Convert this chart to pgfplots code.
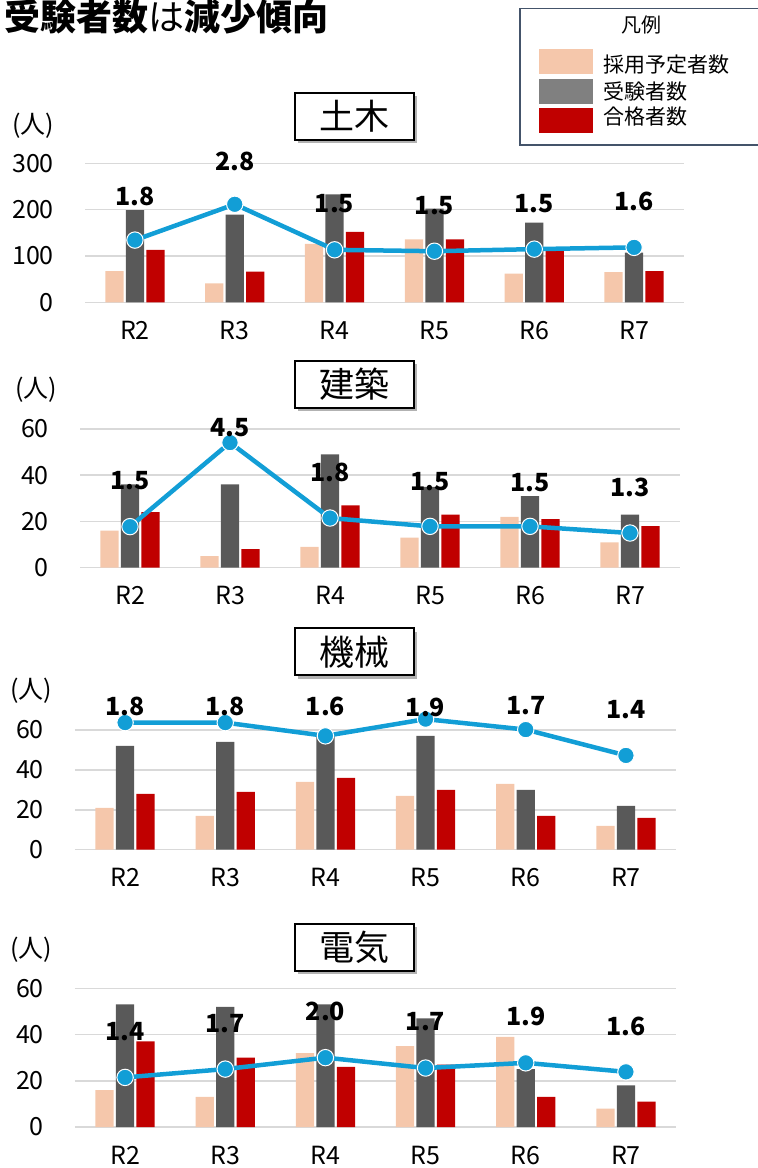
\documentclass[border=0pt]{standalone}
\usepackage{fontspec}
\setmainfont{Noto Sans CJK JP}
\usepackage{pgfplots}
\pgfplotsset{compat=1.18}
\usepackage{pgfplotstable}
\usetikzlibrary{shadows}

\definecolor{cPink}{HTML}{F5C7AB}
\definecolor{cGray}{HTML}{595959}
\definecolor{cRed}{HTML}{C00000}
\definecolor{cBlue}{HTML}{129ED6}
\definecolor{cGrid}{HTML}{D9D9D9}
\definecolor{cLegGray}{HTML}{808080}
\definecolor{cFrame}{HTML}{44546A}

\newcommand\fs[1]{\fontsize{#1}{#1}\selectfont}

% ---- data: bars (採用予定者数, 受験者数, 合格者数) ----
\pgfplotstableread{
x pink gray red
0 67 199 113
1 41 189 66
2 126 233 152
3 136 202 136
4 62 172 112
5 65 107 67
}\tDoboku
\pgfplotstableread{
x pink gray red
0 16 36 24
1 5 36 8
2 9 49 27
3 13 35 23
4 22 31 21
5 11 23 18
}\tKenchiku
\pgfplotstableread{
x pink gray red
0 21 52 28
1 17 54 29
2 34 57 36
3 27 57 30
4 33 30 17
5 12 22 16
}\tKikai
\pgfplotstableread{
x pink gray red
0 16 53 37
1 13 52 30
2 32 53 26
3 35 47 27
4 39 25 13
5 8 18 11
}\tDenki

% ---- data: ratio (倍率) ----
\pgfplotstableread{
x r lab dy
0 1.79 1.8 44
1 2.82 2.8 43
2 1.51 1.5 46
3 1.47 1.5 46
4 1.53 1.5 46
5 1.58 1.6 46
}\rDoboku
\pgfplotstableread{
x r lab dy
0 1.48 1.5 46
1 4.51 4.5 15
2 1.79 1.8 46
3 1.49 1.5 45
4 1.49 1.5 44
5 1.25 1.3 46
}\rKenchiku
\pgfplotstableread{
x r lab dy
0 1.82 1.8 16
1 1.82 1.8 16
2 1.63 1.6 29
3 1.87 1.9 12
4 1.72 1.7 24
5 1.35 1.4 46
}\rKikai
\pgfplotstableread{
x r lab dy
0 1.43 1.4 46
1 1.67 1.7 45
2 2.00 2.0 46
3 1.70 1.7 46
4 1.85 1.9 46
5 1.59 1.6 45
}\rDenki

\pgfplotsset{
  base/.style={scale only axis, anchor=south west, xmin=-0.5, xmax=5.5, ymin=0, clip=false},
}

% #1 x0, #2 y0, #3 width, #4 height, #5 ymax, #6 yticks, #7 bar table, #8 ratio table, #9 ratio max
\newcommand\panel[9]{%
\begin{axis}[base, at={(#1pt,#2pt)}, width=#3pt, height=#4pt, ymax=#5,
  ytick={#6}, xtick={0,...,5}, xticklabels={R2,R3,R4,R5,R6,R7},
  ymajorgrids, grid style={cGrid, line width=1.5pt},
  axis line style={draw=none}, major tick length=0pt,
  ybar=2.2pt, bar width=18.3pt,
  ticklabel style={font=\fs{25}, text=black},
  /pgf/number format/assume math mode=true,
  yticklabel style={anchor=east, inner sep=0pt, xshift=-31pt},
  xticklabel style={anchor=center, inner sep=0pt, yshift=-28pt},
]
\addplot[fill=cPink, draw=none] table[x=x, y=pink]{#7};
\addplot[fill=cGray, draw=none] table[x=x, y=gray]{#7};
\addplot[fill=cRed, draw=none] table[x=x, y=red]{#7};
\end{axis}
\begin{axis}[base, at={(#1pt,#2pt)}, width=#3pt, height=#4pt, ymax=#9, hide axis]
\addplot[cBlue, line width=4.5pt, line join=round, mark=*, mark size=8.2pt,
  mark options={fill=cBlue, draw=white, line width=1pt},
  nodes near coords, point meta=explicit symbolic,
  visualization depends on={\thisrow{dy} \as \dy},
  every node near coord/.append style={anchor=center, yshift=\dy pt,
    font=\bfseries\fs{25}, text=black, inner sep=0pt}]
  table[x=x, y=r, meta=lab]{#8};
\end{axis}
}

\newcommand\tbox[3]{%
\node[draw=black, line width=2pt, fill=white, minimum width=119pt, minimum height=47pt,
  inner sep=0pt, font=\fs{35},
  drop shadow={shadow xshift=3pt, shadow yshift=-3.5pt, fill=black, opacity=0.3}]
  at (#1pt,#2pt) {#3};}

\begin{document}
\begin{tikzpicture}
\useasboundingbox (0pt,0pt) rectangle (758pt,1168pt);

% title
\node[anchor=west, inner sep=0pt, font=\fs{36}] at (4pt,1151.5pt)
  {\textbf{受験者数}は\textbf{減少傾向}};

% legend
\draw[cFrame, line width=1.5pt] (520pt,1159.7pt) rectangle (764pt,1023pt);
\node[font=\fs{20}, inner sep=0pt] at (641pt,1143pt) {凡例};
\fill[cPink] (539pt,1119pt) rectangle (593pt,1094pt);
\fill[cLegGray] (539pt,1089pt) rectangle (593pt,1064pt);
\fill[cRed] (539pt,1059.7pt) rectangle (593pt,1035.3pt);
\node[anchor=west, font=\fs{21}, inner sep=0pt] at (603pt,1103pt) {採用予定者数};
\node[anchor=west, font=\fs{21}, inner sep=0pt] at (603pt,1076pt) {受験者数};
\node[anchor=west, font=\fs{21}, inner sep=0pt] at (603pt,1051pt) {合格者数};

% panels
\panel{85}{865.7}{599}{139}{300}{0,100,200,300}{\tDoboku}{\rDoboku}{4}
\panel{80}{600.3}{600}{138.7}{60}{0,20,40,60}{\tKenchiku}{\rKenchiku}{5}
\panel{75}{318.3}{601}{139.65}{70}{0,20,40,60}{\tKikai}{\rKikai}{2}
\panel{75}{41}{601}{138.7}{60}{0,20,40,60}{\tDenki}{\rDenki}{4}

% unit labels
\node[font=\fs{25}, inner sep=0pt] at (33pt,1042pt) {(人)};
\node[font=\fs{25}, inner sep=0pt] at (36pt,778pt) {(人)};
\node[font=\fs{25}, inner sep=0pt] at (31pt,477pt) {(人)};
\node[font=\fs{25}, inner sep=0pt] at (31pt,218pt) {(人)};

% panel title boxes
\tbox{354.5}{1051.5}{土木}
\tbox{354.5}{783.5}{建築}
\tbox{354.5}{516}{機械}
\tbox{354.5}{220.5}{電気}
\end{tikzpicture}
\end{document}
